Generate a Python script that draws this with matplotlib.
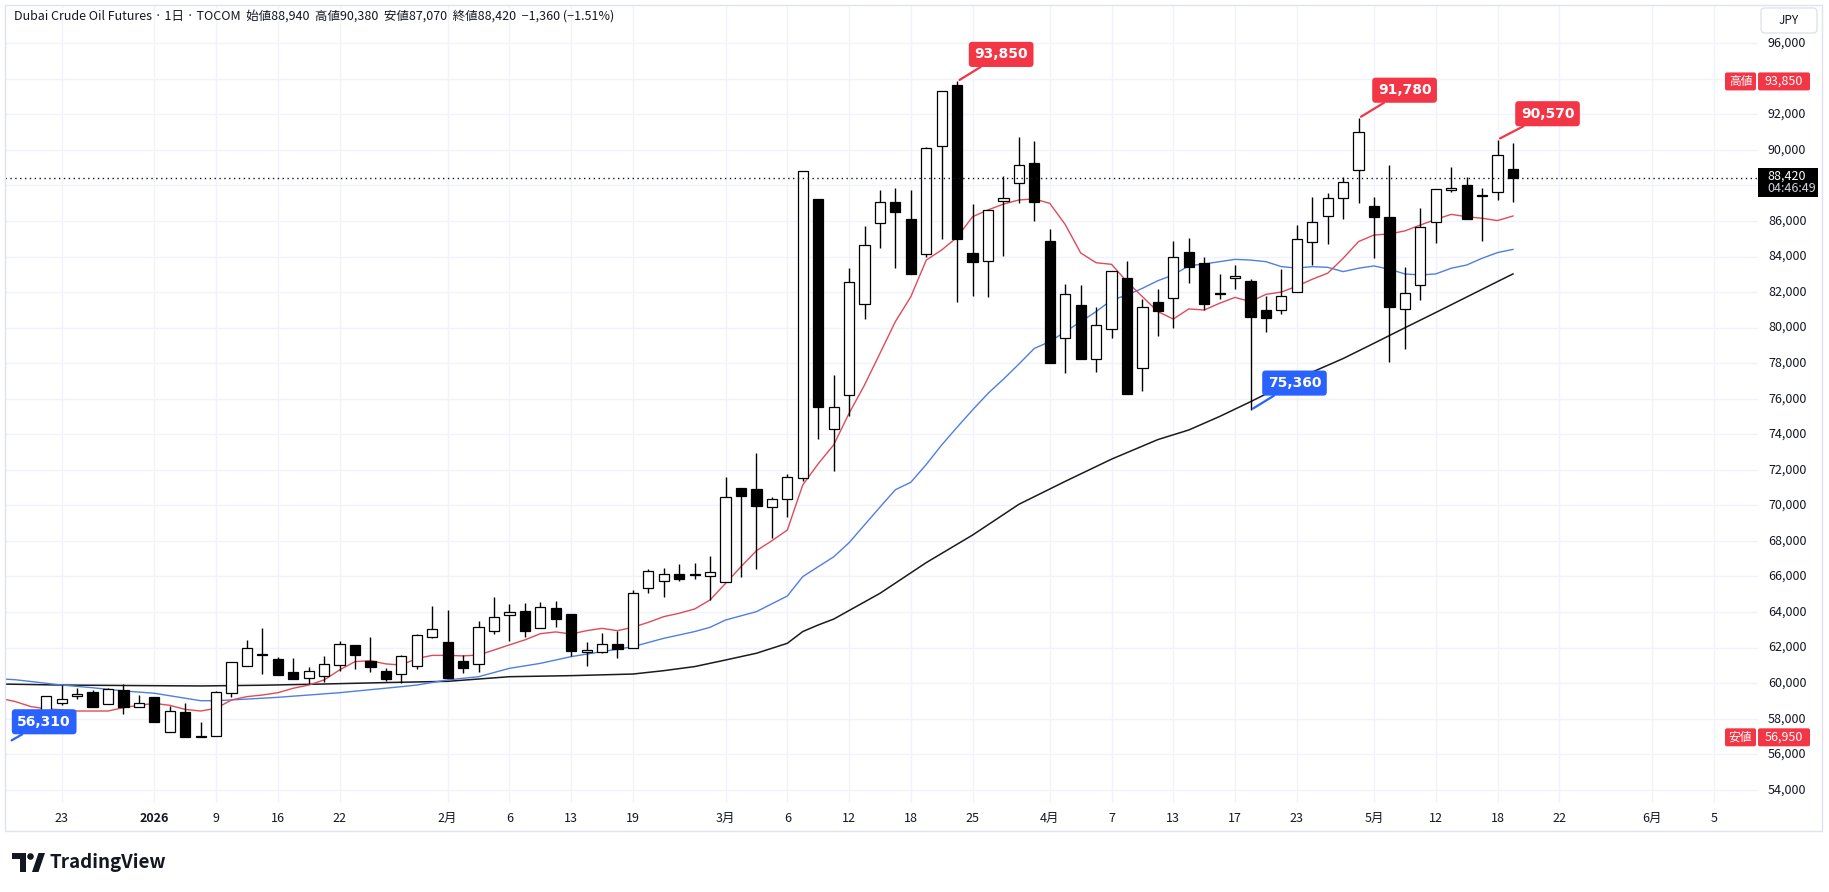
import numpy as np
import pandas as pd
import matplotlib.pyplot as plt
from matplotlib.patches import Rectangle, FancyBboxPatch, Polygon, Circle
from matplotlib.transforms import blended_transform_factory

plt.rcParams['font.family'] = ['Noto Sans CJK JP', 'DejaVu Sans']

W, H = 1829, 892

# Trading calendar (TOCOM), incl. projected days up to Jun 5
holidays = ['2025-12-31', '2026-01-01', '2026-01-02', '2026-01-12', '2026-02-11',
            '2026-02-23', '2026-03-20', '2026-04-29', '2026-05-04', '2026-05-05', '2026-05-06']
days = pd.bdate_range('2025-12-22', '2026-06-05')
days = days[~days.isin(pd.to_datetime(holidays))]

# Daily OHLC, Dec 22 2025 .. May 19 2026
opens = [58450, 58860, 59260, 59500, 58800, 59610, 58640, 59220, 57230, 58370,
         57040, 57040, 59420, 60940, 61620, 61340, 60600, 60270, 60420, 61000,
         62120, 61240, 60680, 60490, 60940, 62580, 62310, 61245, 61060, 62910,
         63810, 64040, 63080, 64210, 63890, 61730, 61730, 62200, 61960, 65330,
         65730, 66140, 66060, 66010, 65670, 70960, 70900, 69890, 70340, 71520,
         87220, 74280, 76190, 81310, 85870, 87050, 86090, 84120, 90240, 93650,
         84180, 83750, 87120, 88120, 89240, 84890, 79400, 81270, 78250, 79900,
         82790, 77710, 81440, 81650, 84230, 83630, 81940, 82810, 82620, 80990,
         80970, 82000, 84840, 86300, 87270, 88850, 86840, 86220, 81030, 82400,
         85960, 87760, 88000, 87440, 87610, 88940]
highs = [59270, 59890, 59700, 59610, 59740, 59950, 59330, 59220, 58710, 58900,
         57790, 59560, 61170, 62420, 63080, 61490, 61390, 60890, 61520, 62370,
         62120, 62580, 60870, 61580, 62760, 64340, 64100, 61580, 63500, 64860,
         64450, 64510, 64560, 64620, 63890, 62330, 62820, 62950, 65240, 66420,
         66460, 66700, 66740, 67150, 71580, 70960, 72930, 70490, 71750, 88830,
         87220, 77320, 83340, 85720, 87740, 87840, 87740, 90180, 93290, 93850,
         86950, 86620, 88530, 90700, 90500, 85530, 82430, 82400, 81140, 83180,
         83750, 81630, 82150, 84870, 85020, 83950, 83010, 83520, 82710, 81780,
         83300, 85770, 87370, 87560, 88490, 91780, 87330, 89150, 83430, 86710,
         87780, 89060, 88490, 87840, 90570, 90380]
lows = [58350, 58770, 59120, 58670, 58800, 58240, 58630, 57830, 57230, 56990,
        56950, 57040, 59240, 60940, 60490, 60475, 60250, 59930, 60080, 60700,
        60780, 60610, 60100, 59990, 60780, 62520, 60290, 60550, 60650, 62750,
        62390, 62610, 63080, 63180, 61530, 60980, 61680, 61430, 61960, 65090,
        64830, 65760, 65840, 64660, 65670, 65950, 66440, 68180, 69360, 71390,
        73720, 71950, 75050, 80500, 84500, 83370, 83000, 84000, 84970, 81460,
        81800, 81740, 84030, 86990, 86020, 77990, 77430, 78250, 77480, 79430,
        76250, 76450, 79550, 80000, 82490, 80990, 81630, 82150, 75360, 79730,
        80750, 82000, 83540, 84700, 86130, 86990, 83940, 78090, 78780, 81550,
        84740, 87650, 86090, 84890, 87180, 87070]
closes = [59270, 59090, 59390, 58670, 59650, 58640, 58880, 57830, 58430, 56990,
          56980, 59480, 61170, 61960, 61580, 60475, 60250, 60660, 61060, 62180,
          61600, 60920, 60250, 61500, 62690, 63030, 60300, 60870, 63140, 63700,
          63980, 62950, 64260, 63590, 61790, 61860, 62180, 61940, 65050, 66290,
          66120, 65880, 66070, 66230, 70450, 70510, 69950, 70340, 71580, 88830,
          75550, 75550, 82590, 84670, 87050, 86520, 83040, 90090, 93290, 84970,
          83710, 86620, 87270, 89150, 87090, 77990, 81880, 78250, 80130, 83180,
          76250, 81140, 80950, 83950, 83430, 81350, 81880, 82840, 80610, 80520,
          81760, 84970, 85960, 87270, 88210, 90990, 86200, 81180, 81930, 85680,
          87780, 87800, 86090, 87410, 89690, 88420]

# Moving averages (bar position, 0 = Dec 22)
red_x = list(range(-3, 96))
red_ma = [59150, 58960, 58680, 58550, 58500, 58430, 58430, 58430, 58620, 58750,
          58860, 58750, 58520, 58430, 58580, 59050, 59240, 59330, 59460, 59710,
          59890, 60180, 60740, 61210, 61260, 61080, 61020, 61380, 61560, 61560,
          61530, 61580, 61860, 62150, 62430, 62780, 62880, 62760, 62950, 63080,
          62950, 63140, 63420, 63740, 63930, 64170, 64680, 65610, 66550, 67450,
          68010, 68610, 71150, 72340, 73400, 75180, 76770, 78550, 80340, 81740,
          83800, 84370, 85080, 86240, 86620, 86950, 87180, 87240, 86990, 85800,
          84200, 83650, 83560, 82580, 81740, 80900, 80480, 81050, 80990, 81370,
          81700, 81460, 81870, 82000, 82330, 82720, 83060, 83900, 84840, 85210,
          85270, 85440, 85770, 86090, 86370, 86240, 86150, 86020, 86280]
red_x = red_x[:len(red_ma)]
blue_x = [-3, -2, 0, 1, 3, 5, 7, 9, 10, 11, 13, 15, 17, 19, 21, 23, 24, 26, 28, 30,
          32, 34, 36, 38, 40, 42, 43, 44, 46, 48] + list(range(49, 96))
blue_ma = [60240, 60190, 59990, 59890, 59740, 59560, 59430, 59150, 59010, 59010,
           59100, 59200, 59330, 59460, 59630, 59800, 59890, 60180, 60360, 60830,
           61110, 61490, 61770, 62050, 62520, 62900, 63140, 63550, 64020, 64900,
           65990, 66550, 67100, 67900, 68900, 69900, 70880, 71300, 72300, 73400,
           74400, 75370, 76300, 77100, 77950, 78830, 79210, 79770, 80330, 80900,
           81550, 81830, 82210, 82640, 82960, 83480, 83580, 83710, 83840, 83800,
           83710, 83430, 83350, 83430, 83390, 83150, 83340, 83470, 83280, 83020,
           82960, 83020, 83340, 83520, 83900, 84220, 84400]
black_x = [-3, 1, 6, 10, 14, 18, 22, 26, 30, 34, 38, 40, 42, 44, 46, 48, 49, 50, 51,
           54, 57, 60, 63, 66, 69, 72, 74, 76, 78, 80, 82, 84, 86, 88, 90, 92, 94, 95]
black_ma = [59950, 59890, 59860, 59840, 59880, 59950, 60030, 60100, 60360, 60420,
            60510, 60700, 60930, 61300, 61680, 62240, 62900, 63270, 63600, 65050,
            66780, 68330, 70060, 71350, 72600, 73700, 74240, 75000, 75830, 76700,
            77500, 78260, 79120, 79990, 80850, 81720, 82590, 83020]

price_ticks = list(range(54000, 96001, 2000))
tick_dates = ['2025-12-23', '2026-01-05', '2026-01-09', '2026-01-16', '2026-01-22',
              '2026-02-02', '2026-02-06', '2026-02-13', '2026-02-19', '2026-03-02',
              '2026-03-06', '2026-03-12', '2026-03-18', '2026-03-25', '2026-04-01',
              '2026-04-07', '2026-04-13', '2026-04-17', '2026-04-23', '2026-05-01',
              '2026-05-12', '2026-05-18', '2026-05-22', '2026-06-01', '2026-06-05']
tick_labels = ['23', '2026', '9', '16', '22', '2月', '6', '13', '19', '3月', '6', '12',
               '18', '25', '4月', '7', '13', '17', '23', '5月', '12', '18', '22', '6月', '5']

header = ('Dubai Crude Oil Futures · 1日 · TOCOM  始値88,940  高値90,380  '
          '安値87,070  終値88,420  −1,360 (−1.51%)')

RED = '#f23645'
BLUE = '#2962ff'
TXT = '#131722'
GRID = '#f0f3fa'

fig = plt.figure(figsize=(W / 100, H / 100), dpi=100)
ax = fig.add_axes([5 / W, 1 - 803 / H, 1753 / W, 797 / H])
ax.set_xlim(-2.67, 110.87)
ax.set_ylim(53255, 98093)
ax.axis('off')

# grid
for p in price_ticks:
    ax.axhline(p, color=GRID, lw=1, zorder=0)
tick_pos = [days.get_loc(pd.Timestamp(d)) for d in tick_dates]
for xp in tick_pos:
    ax.axvline(xp, color=GRID, lw=1, zorder=0)

# moving averages
ax.plot(black_x, black_ma, color='#1b1b1b', lw=1.1, zorder=2)
ax.plot(blue_x, blue_ma, color='#4f7fe0', lw=1.0, zorder=2)
ax.plot(red_x, red_ma, color='#de4b57', lw=1.0, zorder=2)

# candles
x = np.arange(len(opens))
ax.vlines(x, lows, highs, color='black', lw=1, zorder=3)
for xi, o, h, l, c in zip(x, opens, highs, lows, closes):
    fc = 'white' if c >= o else 'black'
    ax.add_patch(Rectangle((xi - 0.33, min(o, c)), 0.66, max(abs(c - o), 70),
                           fc=fc, ec='black', lw=0.9, zorder=4))

# last price line
ax.axhline(closes[-1], color=TXT, lw=1, ls=(0, (1, 2.5)), zorder=5)

# pivot labels
def pivot(pos, price, text, color, dx, dy):
    ax.annotate(text, xy=(pos, price), xytext=(dx, dy), textcoords='offset pixels',
                ha='center', va='center', color='white', fontsize=10,
                fontweight='bold', family='DejaVu Sans', zorder=7,
                bbox=dict(boxstyle='round,pad=0.4,rounding_size=0.25', fc=color, ec='none'),
                arrowprops=dict(arrowstyle='-', color=color, lw=1.6, shrinkA=0, shrinkB=2),
                annotation_clip=False)

pivot(59, 93850, '93,850', RED, 44, 27)
pivot(85, 91780, '91,780', RED, 46, 28)
pivot(94, 90570, '90,570', RED, 50, 26)
pivot(78, 75360, '75,360', BLUE, 44, 27)
pivot(-2.4, 56700, '56,310', BLUE, 35, 20)

# overlay in pixel coordinates
ov = fig.add_axes([0, 0, 1, 1], zorder=10)
ov.set_xlim(0, W)
ov.set_ylim(H, 0)
ov.axis('off')


def ypix(price):
    return H - ax.transData.transform((0, price))[1]


def box(x0, x1, yc, h, color, text, tcolor='white', fs=9):
    ov.add_patch(FancyBboxPatch((x0, yc - h / 2), x1 - x0, h,
                                boxstyle='round,pad=0,rounding_size=2', fc=color, ec='none'))
    ov.text((x0 + x1) / 2, yc, text, color=tcolor, fontsize=fs, ha='center', va='center')


hi, lo = max(highs), min(lows)
yl = ypix(closes[-1])

# price axis (labels that sit under a badge are hidden, as on the chart)
ty = blended_transform_factory(fig.transFigure, ax.transData)
for p in price_ticks:
    yp = ypix(p)
    if abs(yp - ypix(hi)) < 14 or abs(yp - ypix(lo)) < 12 or (yl - 16 < yp < yl + 24):
        continue
    ax.text(1768 / W, p, f'{p:,}', transform=ty, fontsize=9, color=TXT,
            va='center', ha='left', zorder=6)

# time axis
tx = blended_transform_factory(ax.transData, fig.transFigure)
for xp, lab in zip(tick_pos, tick_labels):
    ax.text(xp, 1 - 818 / H, lab, transform=tx, fontsize=9, color=TXT,
            ha='center', va='center', fontweight='bold' if lab == '2026' else 'normal')

ov.add_patch(Rectangle((5, 5), 1817, 826, fill=False, ec='#e0e3eb', lw=1))

box(1725, 1756, ypix(hi), 18, RED, '高値', fs=8.5)
box(1758, 1810, ypix(hi), 18, RED, f'{hi:,}')
box(1725, 1756, ypix(lo), 18, RED, '安値', fs=8.5)
box(1758, 1810, ypix(lo), 18, RED, f'{lo:,}')

ov.add_patch(Rectangle((1758, yl - 10), 60, 29, fc='black', ec='none'))
ov.text(1767, yl - 2, f'{closes[-1]:,}', color='white', fontsize=9, va='center', ha='left')
ov.text(1767, yl + 11, '04:46:49', color='#d1d4dc', fontsize=9, va='center', ha='left')

ov.add_patch(FancyBboxPatch((1761, 8), 56, 25, boxstyle='round,pad=0,rounding_size=4',
                            fc='white', ec='#e0e3eb', lw=1))
ov.text(1789, 20.5, 'JPY', fontsize=8.5, color=TXT, ha='center', va='center')

ov.text(14, 16, header, fontsize=9, color=TXT, ha='left', va='center')

# TradingView logo
ov.add_patch(Polygon([(12, 853), (26, 853), (26, 872), (19.5, 872), (19.5, 859), (12, 859)],
                     fc=TXT, ec='none'))
ov.add_patch(Circle((30.5, 856.5), 3.3, fc=TXT, ec='none'))
ov.add_patch(Polygon([(32, 872), (38.5, 853), (45, 853), (38.5, 872)], fc=TXT, ec='none'))
ov.text(49, 862.5, 'TradingView', fontsize=13.5, fontweight='bold', color=TXT,
        ha='left', va='center')

fig.savefig('out.png', dpi=100)
